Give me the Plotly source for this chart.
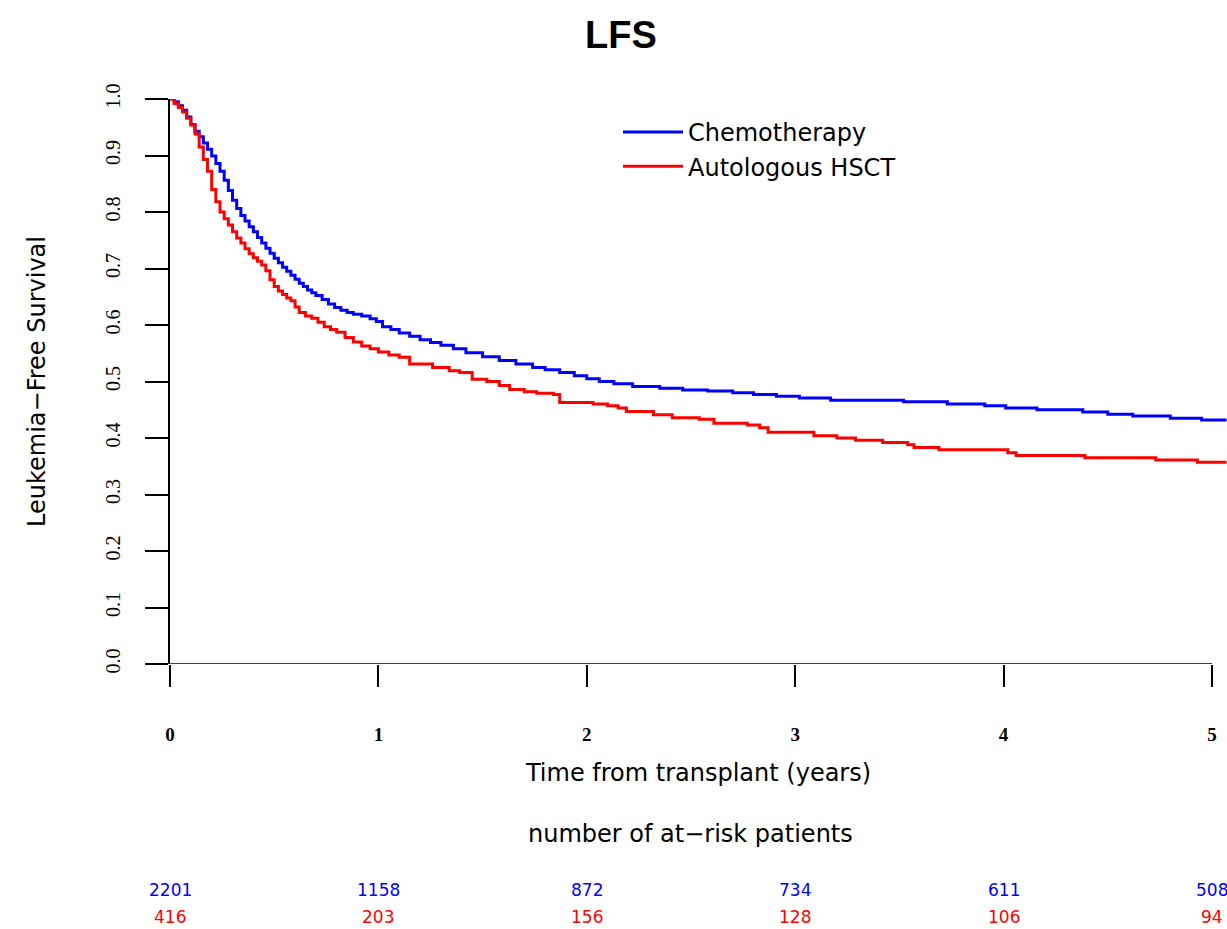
import plotly.graph_objects as go

# ---- data ----
chemo_t = [0.00, 0.02, 0.04, 0.06, 0.08, 0.10, 0.12, 0.14, 0.16, 0.18, 0.20, 0.22, 0.24, 0.26,
           0.28, 0.30, 0.32, 0.34, 0.36, 0.38, 0.40, 0.42, 0.44, 0.46, 0.48, 0.50, 0.52, 0.54,
           0.56, 0.58, 0.60, 0.62, 0.64, 0.66, 0.68, 0.70, 0.73, 0.76, 0.79, 0.82, 0.85, 0.88,
           0.92, 0.96, 0.99, 1.02, 1.06, 1.10, 1.15, 1.20, 1.25, 1.30, 1.36, 1.42, 1.50, 1.58,
           1.66, 1.74, 1.80, 1.87, 1.94, 2.00, 2.06, 2.13, 2.22, 2.35, 2.46, 2.58, 2.70, 2.80,
           2.91, 3.02, 3.17, 3.52, 3.73, 3.91, 4.01, 4.16, 4.38, 4.50, 4.62, 4.80, 4.95, 5.07]
chemo_s = [1.000, 0.995, 0.988, 0.980, 0.968, 0.955, 0.943, 0.933, 0.922, 0.911, 0.899, 0.886,
           0.872, 0.856, 0.838, 0.821, 0.806, 0.794, 0.784, 0.774, 0.765, 0.755, 0.745, 0.736,
           0.727, 0.718, 0.710, 0.702, 0.695, 0.688, 0.681, 0.674, 0.668, 0.662, 0.657, 0.652,
           0.645, 0.637, 0.631, 0.626, 0.622, 0.619, 0.616, 0.611, 0.606, 0.597, 0.592, 0.586,
           0.580, 0.574, 0.569, 0.564, 0.558, 0.551, 0.544, 0.537, 0.531, 0.525, 0.521, 0.516,
           0.510, 0.505, 0.500, 0.496, 0.491, 0.488, 0.485, 0.483, 0.480, 0.477, 0.474, 0.471,
           0.467, 0.464, 0.460, 0.457, 0.453, 0.450, 0.446, 0.442, 0.439, 0.435, 0.432, 0.432]

auto_t = [0.00, 0.02, 0.04, 0.06, 0.08, 0.10, 0.12, 0.14, 0.16, 0.18, 0.20, 0.22, 0.24, 0.26,
          0.28, 0.30, 0.32, 0.34, 0.36, 0.38, 0.40, 0.42, 0.44, 0.46, 0.48, 0.50, 0.52, 0.54,
          0.56, 0.58, 0.60, 0.62, 0.65, 0.68, 0.71, 0.74, 0.77, 0.80, 0.84, 0.88, 0.92, 0.96,
          1.00, 1.05, 1.10, 1.15, 1.26, 1.34, 1.39, 1.45, 1.52, 1.58, 1.63, 1.70, 1.76, 1.84,
          1.87, 2.03, 2.10, 2.15, 2.19, 2.32, 2.41, 2.54, 2.61, 2.77, 2.83, 2.87, 3.09, 3.20,
          3.29, 3.42, 3.54, 3.57, 3.69, 4.02, 4.06, 4.39, 4.73, 4.93, 5.07]
auto_s = [1.000, 0.992, 0.985, 0.977, 0.966, 0.954, 0.938, 0.915, 0.893, 0.872, 0.840, 0.818,
          0.800, 0.788, 0.777, 0.765, 0.754, 0.745, 0.735, 0.726, 0.719, 0.713, 0.706, 0.696,
          0.680, 0.668, 0.660, 0.654, 0.648, 0.643, 0.632, 0.622, 0.616, 0.612, 0.605, 0.597,
          0.592, 0.587, 0.578, 0.570, 0.563, 0.558, 0.552, 0.547, 0.543, 0.531, 0.525, 0.519,
          0.516, 0.504, 0.500, 0.493, 0.486, 0.482, 0.479, 0.477, 0.463, 0.460, 0.457, 0.453,
          0.447, 0.441, 0.436, 0.433, 0.426, 0.423, 0.418, 0.410, 0.404, 0.400, 0.396, 0.392,
          0.388, 0.383, 0.379, 0.374, 0.369, 0.365, 0.361, 0.357, 0.357]

series_names = ["Chemotherapy", "Autologous HSCT"]
series_colors = ["#0000FF", "#FF0000"]

x_ticks = [0, 1, 2, 3, 4, 5]
x_ticklabels = ["0", "1", "2", "3", "4", "5"]
y_ticks = [0.0, 0.1, 0.2, 0.3, 0.4, 0.5, 0.6, 0.7, 0.8, 0.9, 1.0]
y_ticklabels = ["0.0", "0.1", "0.2", "0.3", "0.4", "0.5", "0.6", "0.7", "0.8", "0.9", "1.0"]

atrisk_times = [0, 1, 2, 3, 4, 5]
chemo_atrisk = [2201, 1158, 872, 734, 611, 508]
auto_atrisk = [416, 203, 156, 128, 106, 94]

SANS = "DejaVu Sans"
SERIF = "Liberation Serif"

fig = go.Figure()
for t, s, name, col in [(chemo_t, chemo_s, series_names[0], series_colors[0]),
                        (auto_t, auto_s, series_names[1], series_colors[1])]:
    fig.add_trace(go.Scatter(x=t, y=s, mode="lines", name=name,
                             line=dict(color=col, width=3, shape="hv")))

annotations = [dict(text="number of at\u2212risk patients", xref="paper", yref="paper",
                    x=(690 - 170) / 1057, y=-(834 - 664) / 565, showarrow=False,
                    font=dict(family=SANS, size=24, color="black"),
                    xanchor="center", yanchor="middle")]
for t, c, a in zip(atrisk_times, chemo_atrisk, auto_atrisk):
    annotations.append(dict(text=str(c), x=t, xref="x", y=-(890 - 664) / 565, yref="paper",
                            showarrow=False, xanchor="center", yanchor="middle",
                            font=dict(family=SANS, size=17, color=series_colors[0])))
    annotations.append(dict(text=str(a), x=t, xref="x", y=-(917 - 664) / 565, yref="paper",
                            showarrow=False, xanchor="center", yanchor="middle",
                            font=dict(family=SANS, size=17, color=series_colors[1])))

fig.update_layout(
    width=1227, height=929,
    paper_bgcolor="white", plot_bgcolor="white",
    margin=dict(l=170, r=0, t=99, b=265),
    title=dict(text="<b>LFS</b>", x=(621) / 1227, xanchor="center", y=1 - 35 / 929,
               yanchor="middle", yref="container",
               font=dict(family="Liberation Sans", size=38, color="black")),
    showlegend=True,
    legend=dict(x=(618 - 170) / 1057, y=(664 - 110) / 565, xanchor="left", yanchor="top",
                font=dict(family=SANS, size=24, color="black"),
                bgcolor="rgba(0,0,0,0)", itemwidth=60, tracegroupgap=0),
    xaxis=dict(range=[0, 5.072], tickmode="array", tickvals=x_ticks, ticktext=x_ticklabels,
               ticks="outside", ticklen=22, tickwidth=1.5, tickcolor="black",
               showline=False, showgrid=False, zeroline=False,
               ticklabelstandoff=31,
               tickfont=dict(family=SERIF, size=19, color="black", weight="bold"),
               title=dict(text="Time from transplant (years)", standoff=20,
                          font=dict(family=SANS, size=24, color="black"))),
    yaxis=dict(range=[0, 1], tickmode="array", tickvals=y_ticks, ticktext=y_ticklabels,
               ticks="outside", ticklen=23, tickwidth=1.5, tickcolor="black",
               showline=True, linecolor="black", linewidth=1.5,
               showgrid=False, zeroline=False, tickangle=-90,
               ticklabelstandoff=17,
               tickfont=dict(family=SERIF, size=20, color="black"),
               title=dict(text="Leukemia\u2212Free Survival", standoff=50,
                          font=dict(family=SANS, size=24, color="black"))),
    shapes=[dict(type="line", xref="x", yref="y", x0=0, x1=5, y0=0, y1=0,
                 line=dict(color="black", width=1.5), layer="above")],
    annotations=annotations,
)

fig.write_html("out.html", config={"displayModeBar": False},
               post_script="document.body.style.margin='0';document.body.style.padding='0';"
                           "document.body.style.overflow='hidden';")
